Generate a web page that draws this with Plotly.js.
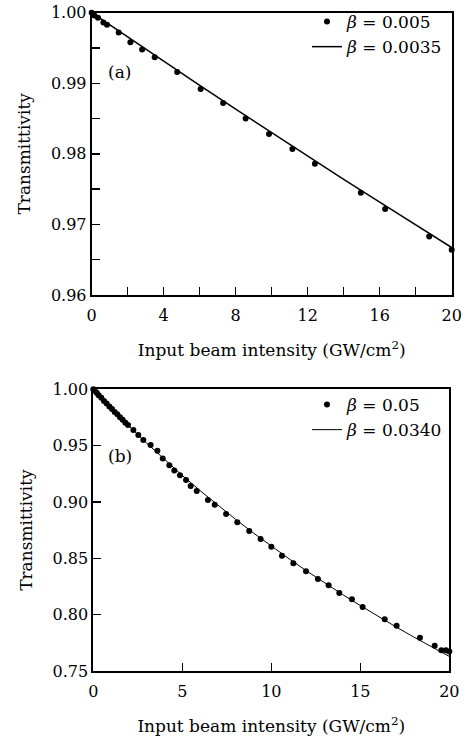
<!DOCTYPE html>
<html>
<head>
<meta charset="utf-8">
<script src="https://cdn.plot.ly/plotly-3.0.1.min.js"></script>
<style>html,body{margin:0;padding:0;background:#fff;}#chart{width:468px;height:736px;}</style>
</head>
<body>
<div id="chart"></div>
<script>
// Panel (a) measured points
const xTopDots = [0, 0.15, 0.35, 0.65, 0.85, 1.5, 2.15, 2.8, 3.5, 4.75, 6.05, 7.3, 8.55, 9.85, 11.15, 12.4, 14.95, 16.3, 18.75, 20];
const yTopDots = [1.0000, 0.9996, 0.9993, 0.9986, 0.9983, 0.9972, 0.9958, 0.9948, 0.9937, 0.9916, 0.9892, 0.9872, 0.9850, 0.9828, 0.9807, 0.9786, 0.9745, 0.9722, 0.9683, 0.9664];
// Panel (a) fitted curve
const xTopFit = [0, 2, 4, 6, 8, 10, 12, 14, 16, 18, 20];
const yTopFit = [1.0000, 0.99654, 0.99310, 0.98970, 0.98633, 0.98299, 0.97968, 0.97640, 0.97315, 0.96993, 0.96673];

// Panel (b) measured points
const xBotDots = [0, 0.1, 0.2, 0.3, 0.45, 0.6, 0.75, 0.9, 1.05, 1.2, 1.35, 1.5, 1.65, 1.8, 1.95,
  2.25, 2.53, 2.81, 3.22, 3.6, 3.9, 4.27, 4.55, 4.87, 5.21, 5.47, 5.81, 6.44, 6.82, 7.46, 8.09, 8.76,
  9.40, 10.0, 10.6, 11.24, 11.95, 12.62, 13.22, 13.82, 14.53, 15.13, 16.37, 17.04, 18.35, 19.18, 19.55, 19.81, 20.0];
const yBotDots = [1.0000, 0.9984, 0.9967, 0.9948, 0.9925, 0.9897, 0.9875, 0.9848, 0.9826, 0.9799, 0.9778, 0.9751, 0.9730, 0.9704, 0.9684,
  0.9639, 0.9594, 0.9550, 0.9506, 0.9455, 0.9385, 0.9325, 0.9280, 0.9237, 0.9195, 0.9142, 0.9097, 0.9018, 0.8976, 0.8893, 0.8820, 0.8742,
  0.8672, 0.8603, 0.8523, 0.8456, 0.8385, 0.8316, 0.8260, 0.8192, 0.8136, 0.8068, 0.7959, 0.7902, 0.7796, 0.7725, 0.7684, 0.7684, 0.7672];
// Panel (b) fitted curve
const xBotFit = [0, 1, 2, 3, 4, 5, 6, 7, 8, 9, 10, 11, 12, 13, 14, 15, 16, 17, 18, 19, 20];
const yBotFit = [1.0000, 0.98338, 0.96747, 0.95222, 0.93760, 0.92355, 0.91005, 0.89705, 0.88453, 0.87245, 0.86078,
  0.84954, 0.83865, 0.82813, 0.81793, 0.80806, 0.79849, 0.78920, 0.78019, 0.77144, 0.76293];

const legendTop = ['<i>β</i> = 0.005', '<i>β</i> = 0.0035'];
const legendBot = ['<i>β</i> = 0.05', '<i>β</i> = 0.0340'];
const xTitle = 'Input beam intensity (GW/cm<sup>2</sup>)';
const yTitle = 'Transmittivity';

const FONT = 'DejaVu Serif, Liberation Serif, serif';
const W = 468, H = 736;

const traces = [
  {x: xTopDots, y: yTopDots, xaxis: 'x', yaxis: 'y', mode: 'markers', name: legendTop[0], legend: 'legend',
   marker: {color: '#000', size: 6}, cliponaxis: false},
  {x: xTopFit, y: yTopFit, xaxis: 'x', yaxis: 'y', mode: 'lines', name: legendTop[1], legend: 'legend',
   line: {color: '#000', width: 1.5}, cliponaxis: false},
  {x: xBotDots, y: yBotDots, xaxis: 'x2', yaxis: 'y2', mode: 'markers', name: legendBot[0], legend: 'legend2',
   marker: {color: '#000', size: 6}, cliponaxis: false},
  {x: xBotFit, y: yBotFit, xaxis: 'x2', yaxis: 'y2', mode: 'lines', name: legendBot[1], legend: 'legend2',
   line: {color: '#000', width: 1}, cliponaxis: false}
];

function axisBase() {
  return {
    showline: true, linecolor: '#000', linewidth: 2, mirror: true,
    ticks: 'inside', ticklen: 8, tickwidth: 1.5, tickcolor: '#000',
    showgrid: false, zeroline: false,
    tickfont: {family: FONT, size: 16, color: '#000'},
    automargin: false, fixedrange: true
  };
}

const xa = Object.assign(axisBase(), {
  domain: [91.7 / W, 451.7 / W], range: [0, 20], anchor: 'y', tick0: 0, dtick: 4, ticklabelstandoff: 5,
  minor: {dtick: 2, ticks: 'inside', ticklen: 8, tickwidth: 1.5, tickcolor: '#000', showgrid: false},
  title: {text: xTitle, font: {family: FONT, size: 17, color: '#000'}, standoff: 20}
});
const ya = Object.assign(axisBase(), {
  domain: [1 - 295 / H, 1 - 12.7 / H], range: [0.96, 1.0], anchor: 'x', tick0: 0.96, dtick: 0.01, tickformat: '.2f',
  minor: {dtick: 0.005, ticks: 'inside', ticklen: 8, tickwidth: 1.5, tickcolor: '#000', showgrid: false},
  title: {text: yTitle, font: {family: FONT, size: 17, color: '#000'}, standoff: 16}
});
const xa2 = Object.assign(axisBase(), {
  domain: [93.3 / W, 449.3 / W], range: [0, 20], anchor: 'y2', tick0: 0, dtick: 5, ticklabelstandoff: 5,
  title: {text: xTitle, font: {family: FONT, size: 17, color: '#000'}, standoff: 20}
});
const ya2 = Object.assign(axisBase(), {
  domain: [1 - 671 / H, 1 - 389.3 / H], range: [0.75, 1.0], anchor: 'x2', tick0: 0.75, dtick: 0.05, tickformat: '.2f',
  title: {text: yTitle, font: {family: FONT, size: 17, color: '#000'}, standoff: 16}
});

const legendCommon = {
  xanchor: 'left', yanchor: 'top', bgcolor: 'rgba(0,0,0,0)', borderwidth: 0,
  font: {family: FONT, size: 17, color: '#000'}, tracegroupgap: 0, itemwidth: 30
};

const layout = {
  width: W, height: H,
  margin: {l: 0, r: 0, t: 0, b: 0, pad: 0},
  paper_bgcolor: '#fff', plot_bgcolor: '#fff',
  showlegend: true,
  xaxis: xa, yaxis: ya, xaxis2: xa2, yaxis2: ya2,
  legend: Object.assign({}, legendCommon, {x: 307 / W, y: 1 - 4 / H}),
  legend2: Object.assign({}, legendCommon, {x: 307 / W, y: 1 - 387 / H}),
  annotations: [
    {text: '(a)', xref: 'paper', yref: 'paper', x: 120 / W, y: 1 - 72 / H, xanchor: 'center', yanchor: 'middle',
     showarrow: false, font: {family: FONT, size: 17, color: '#000'}},
    {text: '(b)', xref: 'paper', yref: 'paper', x: 120 / W, y: 1 - 456 / H, xanchor: 'center', yanchor: 'middle',
     showarrow: false, font: {family: FONT, size: 17, color: '#000'}}
  ]
};

Plotly.newPlot('chart', traces, layout, {staticPlot: true, displayModeBar: false});
</script>
</body>
</html>
